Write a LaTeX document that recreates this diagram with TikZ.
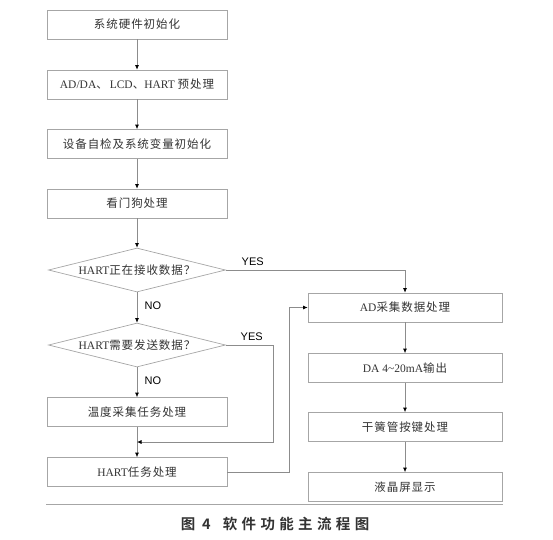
\documentclass[tikz,border=0pt]{standalone}
\usepackage{fontspec}
\setmainfont{Liberation Serif}
\setsansfont{Liberation Sans}
\newfontfamily\cjk[LetterSpace=8]{Noto Sans CJK SC}
\newfontfamily\cjkcap[LetterSpace=30]{Noto Sans CJK SC Bold}
\usepackage{tikz}
\usetikzlibrary{arrows.meta,positioning,shapes.geometric,calc}
\definecolor{ink}{HTML}{333333}
\definecolor{frame}{HTML}{A6A6A6}
\definecolor{wire}{HTML}{8C8C8C}
\tikzset{
  procbox/.style={draw=frame,line width=0.7pt,minimum width=180pt,
                  minimum height=29pt,inner sep=0pt,text=ink,
                  font=\fontsize{11.5}{13}\selectfont},
  decision/.style={diamond,draw=frame,line width=0.7pt,minimum width=177pt,
                   minimum height=44pt,inner sep=0pt,text=ink,
                   font=\fontsize{11.5}{13}\selectfont},
  link/.style={wire,line width=0.7pt,
               -{Latex[length=4.5pt,width=4pt,color=black]}},
  plain/.style={wire,line width=0.7pt},
  branch/.style={font=\sffamily\fontsize{11}{12}\selectfont,text=black},
}
\begin{document}
\begin{tikzpicture}[x=1pt,y=-1pt]
  \useasboundingbox (0,0) rectangle (553,539);
  % Left column
  \node[procbox] (init) at (137,24.5) {\cjk 系统硬件初始化};
  \node[procbox] (pre)  at (137,84.5) {AD/DA{\cjk 、}\,LCD{\cjk 、}HART {\cjk 预处理}};
  \node[procbox] (self) at (137,144)  {\cjk 设备自检及系统变量初始化};
  \node[procbox] (dog)  at (137,203.5){\cjk 看门狗处理};
  \node[decision] (rx)  at (137,270)  {\makebox[0pt]{HART{\cjk 正在接收数据？}}};
  \node[decision] (tx)  at (137,345)  {\makebox[0pt]{HART{\cjk 需要发送数据？}}};
  \node[procbox] (temp) at (137,412)  {\cjk 温度采集任务处理};
  \node[procbox] (hart) at (137,472)  {HART{\cjk 任务处理}};
  % Right column
  \node[procbox,minimum width=194pt] (ad)   at (405,307.5) {AD{\cjk 采集数据处理}};
  \node[procbox,minimum width=194pt] (da)   at (405,368)   {DA 4\textasciitilde 20mA{\cjk 输出}};
  \node[procbox,minimum width=194pt] (reed) at (405,427)   {\cjk 干簧管按键处理};
  \node[procbox,minimum width=194pt] (lcd)  at (405,487)   {\cjk 液晶屏显示};
  \coordinate (join) at ($(temp.south)!0.5!(hart.north)$);
  % Main flow
  \draw[link] (init) -- (pre);
  \draw[link] (pre) -- (self);
  \draw[link] (self) -- (dog);
  \draw[link] (dog) -- (rx);
  \draw[link] (rx) -- node[branch,right=4pt,pos=0.45]{NO} (tx);
  \draw[link] (tx) -- node[branch,right=4pt,pos=0.45]{NO} (temp);
  \draw[link] (temp) -- (hart);
  \draw[link] (ad) -- (da);
  \draw[link] (da) -- (reed);
  \draw[link] (reed) -- (lcd);
  % Branches
  \draw[link] (rx.east) -| node[branch,pos=0.075,above=1pt]{YES} (ad.north);
  \draw[link] (tx.east) -- ++(47,0) node[branch,pos=0.55,above=1pt]{YES}
    |- (join);
  \draw[link] (hart.east) -- ++(62,0) |- (ad.west);
  % Rule and caption
  \draw[frame,line width=0.7pt] (46,504) -- (503,504);
  \node[font=\fontsize{14.5}{16}\selectfont,text=ink] (cap) at (275,524)
    {\cjkcap 图\hspace{7pt}4\hspace{12pt}软件功能主流程图};
\end{tikzpicture}
\end{document}
